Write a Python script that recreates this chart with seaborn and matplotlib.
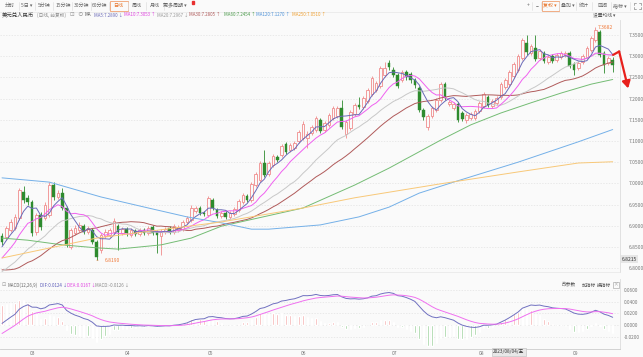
import numpy as np
import pandas as pd
import matplotlib
matplotlib.use("Agg")
import matplotlib.pyplot as plt
import seaborn as sns
from matplotlib.lines import Line2D
from matplotlib.patches import Rectangle
import matplotlib.transforms as mtrans

sns.set_theme(style="white")
plt.rcParams['font.family'] = ['Noto Sans CJK SC', 'DejaVu Sans']

# ---- daily candles, USD/CNY ----
opens = [6.876, 6.874, 6.890, 6.895, 6.918, 6.980, 6.966, 6.956, 6.886, 6.925,
         6.918, 6.925, 6.996, 6.968, 6.977, 6.942, 6.850, 6.883, 6.890, 6.900,
         6.886, 6.890, 6.862, 6.843, 6.876, 6.878, 6.886, 6.900, 6.883, 6.892,
         6.878, 6.888, 6.881, 6.890, 6.883, 6.897, 6.886, 6.876, 6.886, 6.895,
         6.886, 6.890, 6.892, 6.909, 6.914, 6.935, 6.942, 6.930, 6.925, 6.961,
         6.937, 6.923, 6.930, 6.921, 6.928, 6.937, 6.956, 6.970, 6.961, 6.996,
         7.008, 7.048, 7.022, 7.043, 7.062, 7.067, 7.093, 7.079, 7.083, 7.100,
         7.107, 7.107, 7.119, 7.126, 7.150, 7.126, 7.138, 7.154, 7.159, 7.178,
         7.117, 7.131, 7.164, 7.185, 7.180, 7.194, 7.211, 7.220, 7.230, 7.256,
         7.284, 7.267, 7.256, 7.244, 7.263, 7.258, 7.244, 7.225, 7.173, 7.133,
         7.159, 7.173, 7.197, 7.234, 7.187, 7.178, 7.187, 7.166, 7.150, 7.154,
         7.154, 7.171, 7.183, 7.204, 7.183, 7.190, 7.204, 7.227, 7.234, 7.253,
         7.267, 7.296, 7.331, 7.308, 7.319, 7.296, 7.308, 7.286, 7.300, 7.291,
         7.298, 7.303, 7.308, 7.282, 7.272, 7.286, 7.298, 7.315, 7.338, 7.357,
         7.308, 7.284, 7.291]
highs = [6.883, 6.900, 6.916, 6.928, 6.989, 6.994, 6.973, 6.961, 6.930, 6.932,
         6.956, 7.003, 7.003, 6.984, 6.989, 6.947, 6.895, 6.902, 6.909, 6.904,
         6.900, 6.895, 6.866, 6.883, 6.892, 6.895, 6.918, 6.904, 6.897, 6.897,
         6.895, 6.892, 6.895, 6.895, 6.900, 6.902, 6.890, 6.892, 6.897, 6.900,
         6.904, 6.902, 6.914, 6.923, 6.949, 6.947, 6.947, 6.935, 6.970, 6.966,
         6.942, 6.935, 6.935, 6.935, 6.944, 6.963, 6.977, 6.975, 7.003, 7.027,
         7.053, 7.079, 7.053, 7.069, 7.067, 7.093, 7.098, 7.095, 7.100, 7.126,
         7.147, 7.124, 7.138, 7.159, 7.154, 7.147, 7.166, 7.183, 7.183, 7.197,
         7.150, 7.173, 7.190, 7.204, 7.206, 7.225, 7.253, 7.241, 7.277, 7.286,
         7.291, 7.275, 7.260, 7.267, 7.267, 7.263, 7.249, 7.230, 7.178, 7.164,
         7.183, 7.201, 7.239, 7.239, 7.197, 7.192, 7.192, 7.171, 7.166, 7.168,
         7.175, 7.194, 7.215, 7.208, 7.199, 7.206, 7.239, 7.249, 7.267, 7.286,
         7.305, 7.343, 7.350, 7.328, 7.350, 7.317, 7.312, 7.303, 7.305, 7.308,
         7.312, 7.312, 7.312, 7.286, 7.289, 7.305, 7.324, 7.347, 7.3682, 7.362,
         7.312, 7.300, 7.298]
lows = [6.855, 6.866, 6.886, 6.890, 6.914, 6.954, 6.949, 6.876, 6.878, 6.890,
        6.914, 6.921, 6.961, 6.963, 6.937, 6.850, 6.845, 6.878, 6.886, 6.881,
        6.881, 6.857, 6.819, 6.836, 6.871, 6.874, 6.881, 6.843, 6.878, 6.876,
        6.874, 6.876, 6.876, 6.878, 6.878, 6.878, 6.836, 6.831, 6.881, 6.881,
        6.881, 6.886, 6.888, 6.904, 6.909, 6.930, 6.925, 6.923, 6.921, 6.937,
        6.918, 6.918, 6.916, 6.916, 6.923, 6.932, 6.951, 6.956, 6.956, 6.991,
        7.003, 7.015, 7.017, 7.039, 7.050, 7.062, 7.069, 7.074, 7.079, 7.095,
        7.102, 7.083, 7.114, 7.121, 7.119, 7.121, 7.133, 7.150, 7.154, 7.128,
        7.107, 7.126, 7.159, 7.175, 7.175, 7.190, 7.206, 7.215, 7.225, 7.251,
        7.267, 7.251, 7.225, 7.239, 7.244, 7.237, 7.225, 7.168, 7.150, 7.126,
        7.154, 7.168, 7.192, 7.197, 7.183, 7.173, 7.145, 7.147, 7.142, 7.150,
        7.150, 7.166, 7.178, 7.180, 7.178, 7.185, 7.199, 7.223, 7.230, 7.249,
        7.263, 7.291, 7.303, 7.303, 7.289, 7.291, 7.284, 7.282, 7.284, 7.286,
        7.293, 7.298, 7.272, 7.256, 7.267, 7.282, 7.293, 7.310, 7.333, 7.298,
        7.260, 7.279, 7.263]
closes = [6.862, 6.895, 6.909, 6.921, 6.984, 6.961, 6.956, 6.883, 6.925, 6.897,
          6.949, 6.996, 6.968, 6.977, 6.942, 6.855, 6.890, 6.895, 6.902, 6.886,
          6.895, 6.862, 6.826, 6.878, 6.886, 6.890, 6.911, 6.886, 6.892, 6.883,
          6.890, 6.881, 6.890, 6.883, 6.895, 6.883, 6.878, 6.888, 6.892, 6.886,
          6.900, 6.897, 6.909, 6.918, 6.942, 6.942, 6.930, 6.928, 6.966, 6.942,
          6.923, 6.930, 6.921, 6.930, 6.940, 6.958, 6.973, 6.961, 6.999, 7.022,
          7.048, 7.020, 7.048, 7.065, 7.055, 7.088, 7.074, 7.091, 7.095, 7.121,
          7.140, 7.117, 7.133, 7.154, 7.124, 7.142, 7.161, 7.178, 7.178, 7.133,
          7.145, 7.168, 7.185, 7.180, 7.201, 7.220, 7.249, 7.237, 7.272, 7.272,
          7.275, 7.256, 7.230, 7.263, 7.251, 7.244, 7.232, 7.173, 7.157, 7.159,
          7.178, 7.197, 7.234, 7.201, 7.192, 7.187, 7.150, 7.152, 7.161, 7.164,
          7.171, 7.190, 7.211, 7.185, 7.194, 7.201, 7.234, 7.244, 7.263, 7.282,
          7.300, 7.338, 7.310, 7.324, 7.293, 7.312, 7.289, 7.298, 7.289, 7.303,
          7.308, 7.308, 7.277, 7.267, 7.284, 7.300, 7.319, 7.343, 7.362, 7.303,
          7.279, 7.296, 7.279]
# closes before the first visible candle (feed the averages and MACD)
prior_closes = [6.970, 6.970, 6.980, 6.970, 6.970, 6.960, 6.970, 6.960, 6.960, 6.950,
                6.900, 6.890, 6.880, 6.870, 6.780, 6.780, 6.770, 6.750, 6.710, 6.710,
                6.760, 6.750, 6.770, 6.780, 6.760, 6.750, 6.740, 6.740, 6.760, 6.790,
                6.780, 6.790, 6.790, 6.810, 6.820, 6.820, 6.840, 6.860, 6.870]

# long averages, read at a few candles
ma60_idx = [0, 6, 14, 22, 27, 37, 44, 51, 70, 82, 90, 102, 109, 116, 123, 130, 137, 142]
ma60_val = [6.871, 6.866, 6.855, 6.848, 6.845, 6.855, 6.871, 6.899, 6.942, 6.996,
            7.036, 7.102, 7.138, 7.166, 7.190, 7.213, 7.234, 7.245]
ma120_idx = [0, 11, 23, 34, 43, 51, 58, 62, 74, 83, 90, 97, 105, 120, 134, 142]
ma120_val = [7.013, 7.003, 6.968, 6.942, 6.921, 6.907, 6.892, 6.892, 6.902, 6.921,
             6.944, 6.977, 7.003, 7.050, 7.098, 7.127]
ma250_idx = [0, 22, 51, 70, 82, 102, 120, 134, 142]
ma250_val = [6.824, 6.871, 6.909, 6.942, 6.966, 6.999, 7.027, 7.048, 7.051]

month_labels = ["03", "04", "05", "06", "07", "08", "09"]
month_pos = [7.2, 29.1, 48.4, 70.2, 91.2, 111.4, 133.3]
price_ticks = [6.80, 6.85, 6.90, 6.95, 7.00, 7.05, 7.10, 7.15, 7.20, 7.25, 7.30, 7.35]
macd_ticks = [-0.02, 0.0, 0.02, 0.04, 0.06]
cross_price = 6.8215
cross_date = "2023/08/04/五"

BG = "#fafafa"
UP = "#f08c8c"
DOWN = "#2e8b2e"
C_MA5, C_MA10, C_MA20, C_MA30 = "#6a6ab8", "#f060f0", "#c8c8c8", "#b05a5a"
C_MA60, C_MA120, C_MA250 = "#74bc74", "#74b0e8", "#f8c878"

o = np.array(opens); h = np.array(highs); l = np.array(lows); c = np.array(closes)
x = np.arange(len(c))
allc = pd.Series(prior_closes + closes)
npre = len(prior_closes)
ma = {n: allc.rolling(n).mean().iloc[npre:].to_numpy() for n in (5, 10, 20, 30)}
ema12 = allc.ewm(span=12, adjust=False).mean()
ema26 = allc.ewm(span=26, adjust=False).mean()
dif = ema12 - ema26
dea = dif.ewm(span=9, adjust=False).mean()
hist = (2 * (dif - dea)).iloc[npre:].to_numpy()
dif = dif.iloc[npre:].to_numpy()
dea = dea.iloc[npre:].to_numpy()

W, H = 643, 357
fig = plt.figure(figsize=(W / 100, H / 100), dpi=100, facecolor=BG)
ax = fig.add_axes([0, 85 / H, 620 / W, 252 / H], facecolor=BG)
axm = fig.add_axes([0, 8 / H, 620 / W, 70 / H], facecolor=BG)

# candles
up = c >= o
ax.vlines(x[up], l[up], h[up], color=UP, lw=0.6, zorder=2)
ax.vlines(x[~up], l[~up], h[~up], color=DOWN, lw=0.6, zorder=2)
ax.bar(x[up], np.maximum(c - o, 0.0008)[up], bottom=o[up], width=0.62,
       facecolor=BG, edgecolor=UP, linewidth=0.6, zorder=3)
ax.bar(x[~up], (o - c)[~up], bottom=c[~up], width=0.62,
       color=DOWN, edgecolor=DOWN, linewidth=0.3, zorder=3)

# moving averages
for vals, col in [(ma[30], C_MA30), (ma[20], C_MA20), (ma[10], C_MA10), (ma[5], C_MA5)]:
    sns.lineplot(x=x, y=vals, ax=ax, color=col, linewidth=0.7, zorder=4)
for idx, vals, col in [(ma60_idx, ma60_val, C_MA60), (ma120_idx, ma120_val, C_MA120),
                       (ma250_idx, ma250_val, C_MA250)]:
    sns.lineplot(x=idx, y=vals, ax=ax, color=col, linewidth=0.7, zorder=4)

ax.set_xlim(-0.47, 143.7)
ax.set_ylim(6.791, 7.3853)
ax.set_xticks([])
ax.set_yticks(price_ticks)
ax.set_yticklabels([f"{v:.4f}" for v in price_ticks])
ax.yaxis.tick_right()
ax.tick_params(axis='y', length=0, pad=6, labelsize=3.6, colors="#777")
ax.grid(axis='y', color="#e2e2e2", lw=0.5, ls=(0, (2, 2)))
ax.set_xlabel(""); ax.set_ylabel("")
for s in ["top", "left"]:
    ax.spines[s].set_visible(False)
ax.spines["right"].set_color("#dddddd"); ax.spines["right"].set_linewidth(0.6)
ax.spines["bottom"].set_color("#e6e6e6"); ax.spines["bottom"].set_linewidth(0.5)

# high / low marks
ih = int(np.argmax(h)); il = int(np.argmin(l))
ax.annotate(f"{h[ih]:.4f}", xy=(ih, h[ih]), xytext=(ih + 0.6, h[ih]), fontsize=3.6,
            color="#f07a3a", va="center", ha="left")
ax.annotate(f"{l[il]:.4f}", xy=(il, l[il]), xytext=(il + 1.8, l[il]), fontsize=3.6,
            color="#f07a3a", va="center", ha="left",
            arrowprops=dict(arrowstyle="-", color="#f07a3a", lw=0.4))
# crosshair price label
tr = mtrans.blended_transform_factory(ax.transAxes, ax.transData)
ax.text(1.003, cross_price, f"{cross_price:.4f}", transform=tr, fontsize=3.6, color="#333",
        va="center", ha="left", bbox=dict(boxstyle="square,pad=0.25", fc="#e6e6e6", ec="none"))

# red hand-drawn arrow
ax.plot([142.1, 143.5], [7.303, 7.311], color="#e8201c", lw=1.6, clip_on=False,
        solid_capstyle="round", zorder=6)
ax.annotate("", xy=(145.6, 7.224), xytext=(143.5, 7.311), annotation_clip=False,
            arrowprops=dict(arrowstyle="-|>,head_length=0.35,head_width=0.2",
                            color="#e8201c", lw=1.6, shrinkA=0, shrinkB=0), zorder=6)

# MACD panel
axm.bar(x, hist, width=0.35, color=np.where(hist >= 0, "#f4a6a6", "#8fcb8f"), zorder=2)
sns.lineplot(x=x, y=dif, ax=axm, color="#7070c0", linewidth=0.7, zorder=3)
sns.lineplot(x=x, y=dea, ax=axm, color="#f070f0", linewidth=0.7, zorder=3)
axm.set_xlim(-0.47, 143.7)
axm.set_ylim(-0.04, 0.0783)
axm.set_yticks(macd_ticks)
axm.set_yticklabels([f"{v:.4f}" for v in macd_ticks])
axm.yaxis.tick_right()
axm.tick_params(axis='y', length=0, pad=3, labelsize=3.4, colors="#777")
axm.set_xticks(month_pos)
axm.set_xticklabels(month_labels)
axm.tick_params(axis='x', length=0, pad=1.5, labelsize=3.6, colors="#777")
axm.grid(axis='y', color="#e2e2e2", lw=0.5, ls=(0, (2, 2)))
axm.set_xlabel(""); axm.set_ylabel("")
axm.spines["top"].set_visible(False); axm.spines["left"].set_visible(False)
axm.spines["right"].set_color("#dddddd"); axm.spines["right"].set_linewidth(0.6)
axm.spines["bottom"].set_color("#cccccc"); axm.spines["bottom"].set_linewidth(0.6)


def ftext(px, py, s, size=3.6, color="#555", ha="left", **kw):
    return fig.text(px / W, 1 - py / H, s, fontsize=size, color=color, ha=ha, va="center", **kw)


def fline(xs, ys, color="#e0e0e0", lw=0.5):
    fig.add_artist(Line2D([v / W for v in xs], [1 - v / H for v in ys], color=color, lw=lw))


def box(x0, y0, x1, y1, ec):
    fig.add_artist(Rectangle((x0 / W, 1 - y1 / H), (x1 - x0) / W, (y1 - y0) / H,
                             fill=False, ec=ec, lw=0.6, transform=fig.transFigure))


# toolbar
left_btns = [("分时", 10), ("5日 ▾", 27), ("5分钟", 44), ("15分钟", 63), ("30分钟", 82),
             ("60分钟", 100), ("日线", 118), ("周线", 137), ("月线", 155), ("更多周期 ▾", 175)]
for txt, px in left_btns:
    ftext(px, 5.5, txt, color="#e8762c" if txt == "日线" else "#666", ha="center")
for px in [19, 35, 53, 72, 91, 109, 128, 146, 164]:
    fline([px, px], [1.5, 10])
box(109.5, 0.8, 127.5, 11, "#f0a070")
fig.add_artist(Rectangle((192 / W, 1 - 3.5 / H), 2.2 / W, 2.2 / H, color="#e83030",
                         transform=fig.transFigure))
right_btns = [("+", 528), ("−", 537), ("复权 ▾", 550), ("叠加 ▾", 568), ("统计", 584),
              ("区间", 602), ("指标 ▾", 620)]
for txt, px in right_btns:
    ftext(px, 5.5, txt, color="#e8762c" if "复权" in txt else "#666", ha="center")
for px in [532, 541, 559, 576, 592, 611, 630]:
    fline([px, px], [1.5, 10])
box(541.5, 0.8, 558.5, 11, "#f0a070")
# full-screen icon (four corner brackets)
for cx, cy, dx, dy in [(634, 3, 1, 1), (641, 3, -1, 1), (634, 9, 1, -1), (641, 9, -1, -1)]:
    fline([cx + 2 * dx, cx, cx], [cy, cy, cy + 2 * dy], color="#888", lw=0.5)
fline([0, W], [12, 12], color="#e6e6e6")

# legend row
ftext(2, 15, "美元兑人民币", size=3.9, color="#333")
ftext(37, 15, "(日线, 前复权)", size=3.4, color="#888")
ftext(70, 15, "⊡", size=4, color="#999")
ftext(77, 15, "⊙", size=4, color="#999")
ftext(85, 15, "MA", size=3.3, color="#555")
legend_items = [("MA5:7.2890 ↓", 94, C_MA5), ("MA10:7.3053 ↑", 124, "#e040e0"),
                ("MA20:7.2967 ↓", 157, "#999999"), ("MA30:7.2805 ↑", 189, C_MA30),
                ("MA60:7.2454 ↑", 224, "#4a9a4a"), ("MA120:7.1270 ↑", 256, "#4a90d8"),
                ("MA250:7.0510 ↑", 292, "#f0a030")]
for txt, px, col in legend_items:
    ftext(px, 15, txt, size=3.2, color=col)
ftext(593, 15, "设置均线 ▾", size=3.4, color="#555")

# MACD header
ftext(2, 285, "⊡", size=3.6, color="#999")
ftext(8, 285, "MACD(12,26,9)", size=3.2, color="#666")
ftext(40, 285, "DIF:0.0124 ↓", size=3.2, color="#5a5ab8")
ftext(67, 285, "DEA:0.0167 ↓", size=3.2, color="#e040e0")
ftext(95, 285, "MACD:-0.0126 ↓", size=3.2, color="#888")
ftext(562, 285, "改参数", size=3.4, color="#555")
ftext(582, 285, "加指标", size=3.4, color="#555")
ftext(597, 285, "换指标", size=3.4, color="#555")
ftext(616, 285, "×", size=3.4, color="#999", ha="center")
box(613, 282, 619, 288, "#bbbbbb")

# crosshair date label
ftext(509, 352, cross_date, size=3.4, color="#333", ha="center",
      bbox=dict(boxstyle="square,pad=0.25", fc="#e8e8e8", ec="#bbbbbb", lw=0.4))

fig.savefig("out.png", dpi=100, facecolor=BG)
